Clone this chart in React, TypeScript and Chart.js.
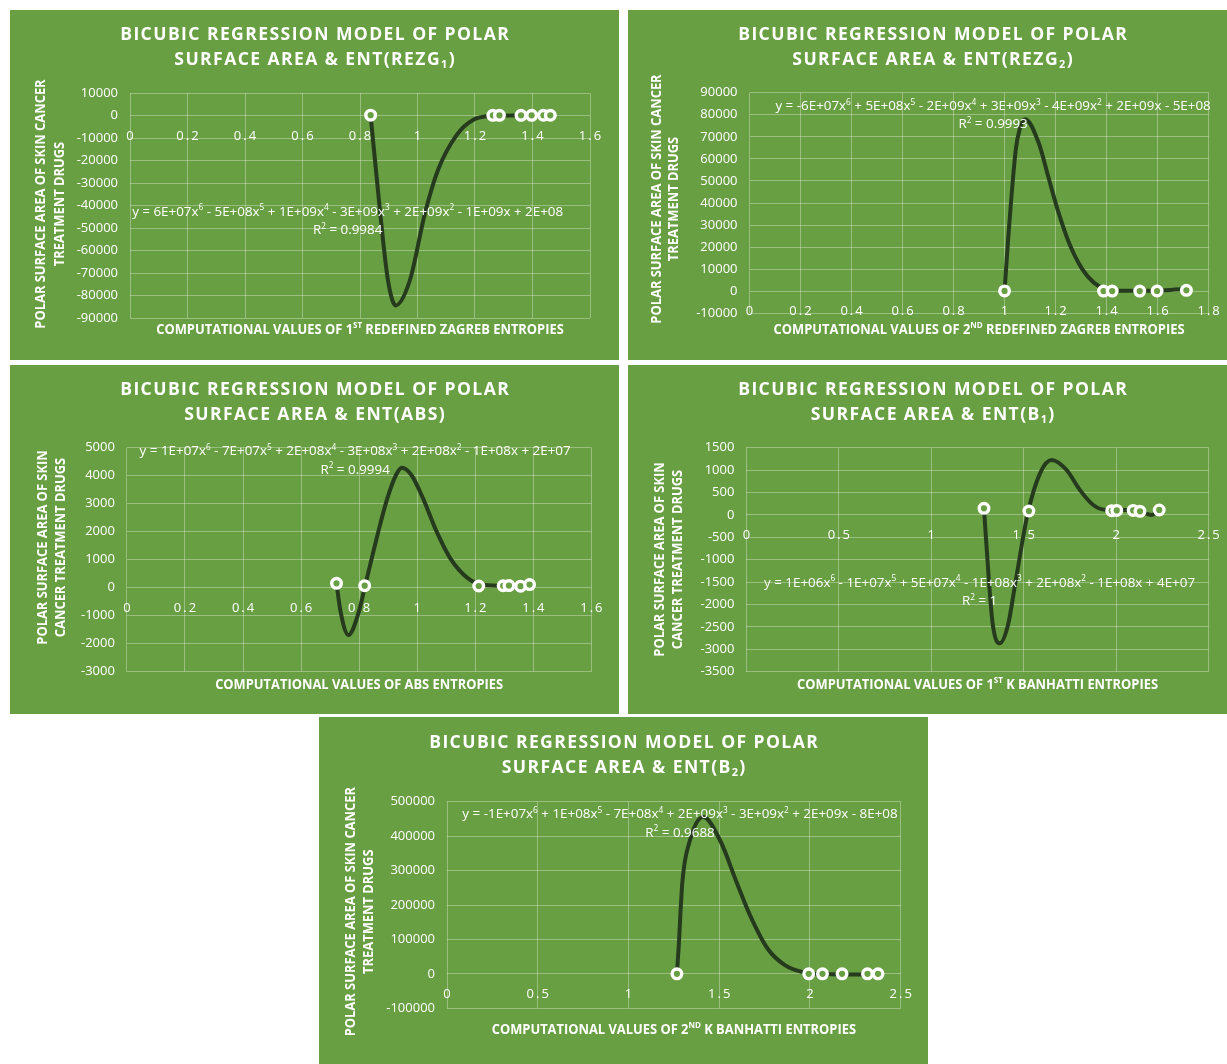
import React, { useEffect, useRef } from "react";
import { Chart, registerables } from "chart.js";

Chart.register(...registerables);

const GREEN = "#699F43";
const TREND = "#263B1E";
const GRID = "rgba(255,255,255,0.32)";
const FAMILY = "'Open Sans', 'DejaVu Sans', sans-serif";

// ---- ENT(REZG1) ----
const rezg1X = [0.837, 1.262, 1.285, 1.36, 1.397, 1.438, 1.462];
const rezg1Y = [155, 75, 70, 95, 60, 110, 100];
const rezg1FitX = [0.837, 0.87, 0.897, 0.924, 0.974, 1.026, 1.071, 1.136, 1.193, 1.26, 1.33, 1.4, 1.462];
const rezg1FitY = [0, -43000, -73000, -84400, -73000, -43400, -24300, -8700, -2000, -200, 0, 0, 0];

// ---- ENT(REZG2) ----
const rezg2X = [1.0, 1.388, 1.422, 1.53, 1.598, 1.713];
const rezg2Y = [155, 70, 95, 60, 110, 400];
const rezg2FitX = [1.0, 1.013, 1.044, 1.059, 1.081, 1.134, 1.171, 1.208, 1.253, 1.306, 1.351, 1.396, 1.45, 1.55, 1.65, 1.713];
const rezg2FitY = [0, 21900, 64200, 73300, 78000, 67200, 52100, 37000, 21900, 9800, 3800, 1000, 200, 200, 600, 1000];

// ---- ENT(ABS) ----
const absX = [0.722, 0.819, 1.212, 1.296, 1.316, 1.356, 1.387];
const absY = [157, 71, 60, 70, 75, 55, 110];
const absFitX = [0.722, 0.736, 0.763, 0.799, 0.819, 0.866, 0.897, 0.927, 0.947, 0.98, 1.02, 1.067, 1.114, 1.175, 1.23, 1.3, 1.387];
const absFitY = [157, -857, -1690, -857, 0, 2000, 3190, 4025, 4286, 4025, 3190, 2000, 1048, 334, 95, 70, 85];

// ---- ENT(B1) ----
const b1X = [1.285, 1.528, 1.976, 2.003, 2.092, 2.129, 2.233];
const b1Y = [147, 87, 95, 100, 100, 80, 110];
const b1FitX = [1.285, 1.312, 1.333, 1.37, 1.415, 1.456, 1.52, 1.588, 1.651, 1.732, 1.804, 1.876, 1.949, 2.003, 2.05, 2.13, 2.192, 2.233];
const b1FitY = [147, -1490, -2458, -2866, -2458, -1490, 0, 928, 1225, 1002, 556, 221, 109, 125, 109, 76, 0, 100];

// ---- ENT(B2) ----
const b2X = [1.267, 1.993, 2.069, 2.177, 2.317, 2.375];
const b2Y = [155, 75, 95, 60, 110, 100];
const b2FitX = [1.267, 1.276, 1.297, 1.336, 1.412, 1.509, 1.595, 1.67, 1.767, 1.864, 1.961, 2.05, 2.2, 2.375];
const b2FitY = [0, 73000, 267000, 383000, 455800, 383000, 267000, 170000, 73000, 24700, 5000, 0, -2000, 0];

const TITLE_TOP = "BICUBIC REGRESSION MODEL OF POLAR";
const Y_TITLE_LONG = ["POLAR SURFACE AREA OF SKIN CANCER", "TREATMENT DRUGS"];
const Y_TITLE_SHORT = ["POLAR SURFACE AREA OF SKIN", "CANCER TREATMENT DRUGS"];

type TextStyle = { weight: string; size: number; spacing: number; ref?: string; width?: number };

const TITLE_STYLE: TextStyle = { weight: "bold", size: 17.5, spacing: 1.4, ref: TITLE_TOP, width: 390 };
const AXIS_STYLE: TextStyle = { weight: "bold", size: 14, spacing: 0, ref: "COMPUTATIONAL VALUES OF ABS ENTROPIES", width: 288 };
const EQ_STYLE: TextStyle = {
  weight: "normal",
  size: 13,
  spacing: 0,
  ref: "y = 6E+07x^{6} - 5E+08x^{5} + 1E+09x^{4} - 3E+09x^{3} + 2E+09x^{2} - 1E+09x + 2E+08",
  width: 431,
};
const TICK_STYLE: TextStyle = { weight: "normal", size: 13, spacing: 2 };

type Panel = {
  box: { left: number; top: number; width: number; height: number };
  plot: { left: number; right: number; top: number; bottom: number };
  title: string[];
  titleY: number[];
  yTitle: string[];
  yTitleX: number[];
  yTitleCy: number;
  xTitle: string;
  xTitleY: number;
  xRange: number[];
  yRange: number[];
  eq: string[];
  eqAt: { x: number; y: number };
  px: number[];
  py: number[];
  fx: number[];
  fy: number[];
};

const panels: Panel[] = [
  {
    box: { left: 10, top: 10, width: 609, height: 350 },
    plot: { left: 120, right: 580, top: 83, bottom: 308 },
    title: [TITLE_TOP, "SURFACE AREA & ENT(REZG_{1})"],
    titleY: [25, 50],
    yTitle: Y_TITLE_LONG,
    yTitleX: [30.7, 50],
    yTitleCy: 194,
    xTitle: "COMPUTATIONAL VALUES OF 1^{ST} REDEFINED ZAGREB ENTROPIES",
    xTitleY: 320,
    xRange: [0, 1.6, 0.2],
    yRange: [-90000, 10000, 10000],
    eq: ["y = 6E+07x^{6} - 5E+08x^{5} + 1E+09x^{4} - 3E+09x^{3} + 2E+09x^{2} - 1E+09x + 2E+08", "R^{2} = 0.9984"],
    eqAt: { x: 0.757, y: -43000 },
    px: rezg1X,
    py: rezg1Y,
    fx: rezg1FitX,
    fy: rezg1FitY,
  },
  {
    box: { left: 628, top: 10, width: 599, height: 350 },
    plot: { left: 121.5, right: 580.6, top: 82.7, bottom: 303.3 },
    title: [TITLE_TOP, "SURFACE AREA & ENT(REZG_{2})"],
    titleY: [25, 50],
    yTitle: Y_TITLE_LONG,
    yTitleX: [28.6, 45.8],
    yTitleCy: 189,
    xTitle: "COMPUTATIONAL VALUES OF 2^{ND} REDEFINED ZAGREB ENTROPIES",
    xTitleY: 320,
    xRange: [0, 1.8, 0.2],
    yRange: [-10000, 90000, 10000],
    eq: ["y = -6E+07x^{6} + 5E+08x^{5} - 2E+09x^{4} + 3E+09x^{3} - 4E+09x^{2} + 2E+09x - 5E+08", "R^{2} = 0.9993"],
    eqAt: { x: 0.955, y: 83800 },
    px: rezg2X,
    py: rezg2Y,
    fx: rezg2FitX,
    fy: rezg2FitY,
  },
  {
    box: { left: 10, top: 365, width: 609, height: 349 },
    plot: { left: 116.9, right: 581.4, top: 82.7, bottom: 306.7 },
    title: [TITLE_TOP, "SURFACE AREA & ENT(ABS)"],
    titleY: [25, 50],
    yTitle: Y_TITLE_SHORT,
    yTitleX: [33, 50.7],
    yTitleCy: 182.5,
    xTitle: "COMPUTATIONAL VALUES OF ABS ENTROPIES",
    xTitleY: 320,
    xRange: [0, 1.6, 0.2],
    yRange: [-3000, 5000, 1000],
    eq: ["y = 1E+07x^{6} - 7E+07x^{5} + 2E+08x^{4} - 3E+08x^{3} + 2E+08x^{2} - 1E+08x + 2E+07", "R^{2} = 0.9994"],
    eqAt: { x: 0.786, y: 4857 },
    px: absX,
    py: absY,
    fx: absFitX,
    fy: absFitY,
  },
  {
    box: { left: 628, top: 365, width: 599, height: 349 },
    plot: { left: 118.4, right: 580.6, top: 82.7, bottom: 306.7 },
    title: [TITLE_TOP, "SURFACE AREA & ENT(B_{1})"],
    titleY: [25, 50],
    yTitle: Y_TITLE_SHORT,
    yTitleX: [32.5, 49.7],
    yTitleCy: 194.5,
    xTitle: "COMPUTATIONAL VALUES OF 1^{ST} K BANHATTI ENTROPIES",
    xTitleY: 320,
    xRange: [0, 2.5, 0.5],
    yRange: [-3500, 1500, 500],
    eq: ["y = 1E+06x^{6} - 1E+07x^{5} + 5E+07x^{4} - 1E+08x^{3} + 2E+08x^{2} - 1E+08x + 4E+07", "R^{2} = 1"],
    eqAt: { x: 1.261, y: -1527 },
    px: b1X,
    py: b1Y,
    fx: b1FitX,
    fy: b1FitY,
  },
  {
    box: { left: 319, top: 717, width: 609, height: 347 },
    plot: { left: 128, right: 581.7, top: 84.7, bottom: 291.3 },
    title: [TITLE_TOP, "SURFACE AREA & ENT(B_{2})"],
    titleY: [26, 51],
    yTitle: Y_TITLE_LONG,
    yTitleX: [32, 49.8],
    yTitleCy: 194.7,
    xTitle: "COMPUTATIONAL VALUES OF 2^{ND} K BANHATTI ENTROPIES",
    xTitleY: 313,
    xRange: [0, 2.5, 0.5],
    yRange: [-100000, 500000, 100000],
    eq: ["y = -1E+07x^{6} + 1E+08x^{5} - 7E+08x^{4} + 2E+09x^{3} - 3E+09x^{2} + 2E+09x - 8E+08", "R^{2} = 0.9688"],
    eqAt: { x: 1.284, y: 462800 },
    px: b2X,
    py: b2Y,
    fx: b2FitX,
    fy: b2FitY,
  },
];

// ---- rich text: ^{..} is superscript, _{..} is subscript ----
type Seg = { t: string; k: "" | "sup" | "sub" };

function parseRich(s: string): Seg[] {
  const out: Seg[] = [];
  const re = /([\^_])\{([^}]*)\}/g;
  let last = 0;
  let m: RegExpExecArray | null;
  while ((m = re.exec(s))) {
    if (m.index > last) out.push({ t: s.slice(last, m.index), k: "" });
    out.push({ t: m[2], k: m[1] === "^" ? "sup" : "sub" });
    last = re.lastIndex;
  }
  if (last < s.length) out.push({ t: s.slice(last), k: "" });
  return out;
}

function setFont(ctx: CanvasRenderingContext2D, st: TextStyle, k: string) {
  const size = k ? st.size * 0.62 : st.size;
  ctx.font = `${st.weight} ${size}px ${FAMILY}`;
  (ctx as any).letterSpacing = `${st.spacing}px`;
}

function measureRich(ctx: CanvasRenderingContext2D, s: string, st: TextStyle) {
  ctx.save();
  const w = parseRich(s).reduce((acc, p) => {
    setFont(ctx, st, p.k);
    return acc + ctx.measureText(p.t).width;
  }, 0);
  ctx.restore();
  return w;
}

function squeeze(ctx: CanvasRenderingContext2D, st: TextStyle) {
  if (!st.ref || !st.width) return 1;
  return st.width / measureRich(ctx, st.ref, st);
}

function drawRich(
  ctx: CanvasRenderingContext2D,
  s: string,
  cx: number,
  cy: number,
  st: TextStyle,
  rotate = false
) {
  const sx = squeeze(ctx, st);
  const parts = parseRich(s);
  ctx.save();
  ctx.translate(cx, cy);
  if (rotate) ctx.rotate(-Math.PI / 2);
  ctx.scale(sx, 1);
  const widths = parts.map((p) => {
    setFont(ctx, st, p.k);
    return ctx.measureText(p.t).width;
  });
  const total = widths.reduce((a, b) => a + b, 0);
  let x = -total / 2 + st.spacing / 2;
  ctx.fillStyle = "#ffffff";
  ctx.textAlign = "left";
  ctx.textBaseline = "middle";
  parts.forEach((p, i) => {
    setFont(ctx, st, p.k);
    const dy = p.k === "sup" ? -st.size * 0.32 : p.k === "sub" ? st.size * 0.3 : 0;
    ctx.fillText(p.t, x, dy);
    x += widths[i];
  });
  ctx.restore();
}

function decorations(cfg: Panel) {
  return {
    id: "decorations",
    beforeDraw(chart: Chart) {
      const ctx = chart.ctx;
      ctx.save();
      ctx.fillStyle = GREEN;
      ctx.fillRect(0, 0, chart.width, chart.height);
      ctx.restore();
    },
    beforeDatasetsDraw(chart: Chart) {
      const ctx = chart.ctx;
      const xs = chart.scales.x;
      const ys = chart.scales.y;
      const y0 = ys.getPixelForValue(0);
      xs.ticks.forEach((t) => {
        const label = String(Math.round(t.value * 10) / 10);
        drawRich(ctx, label, xs.getPixelForValue(t.value), y0 + 20.5, TICK_STYLE);
      });
    },
    afterDraw(chart: Chart) {
      const ctx = chart.ctx;
      const { chartArea } = chart;
      const midX = 304.5;
      cfg.title.forEach((line, i) => drawRich(ctx, line, midX, cfg.titleY[i], TITLE_STYLE));
      cfg.yTitle.forEach((line, i) => drawRich(ctx, line, cfg.yTitleX[i], cfg.yTitleCy, AXIS_STYLE, true));
      drawRich(ctx, cfg.xTitle, (chartArea.left + chartArea.right) / 2, cfg.xTitleY, AXIS_STYLE);
      const ex = chart.scales.x.getPixelForValue(cfg.eqAt.x);
      const ey = chart.scales.y.getPixelForValue(cfg.eqAt.y);
      drawRich(ctx, cfg.eq[0], ex, ey, EQ_STYLE);
      drawRich(ctx, cfg.eq[1], ex, ey + 18.3, EQ_STYLE);
    },
  };
}

function PanelChart({ cfg }: { cfg: Panel }) {
  const ref = useRef<HTMLCanvasElement>(null);

  useEffect(() => {
    if (!ref.current) return;
    const { box, plot } = cfg;
    const chart = new Chart(ref.current, {
      type: "line",
      data: {
        datasets: [
          {
            label: "Polar surface area",
            data: cfg.px.map((x, i) => ({ x, y: cfg.py[i] })),
            showLine: false,
            pointRadius: 4.8,
            pointHoverRadius: 4.8,
            pointBorderWidth: 3.4,
            pointBorderColor: "#ffffff",
            pointBackgroundColor: GREEN,
          },
          {
            label: "Poly. (Polar surface area)",
            data: cfg.fx.map((x, i) => ({ x, y: cfg.fy[i] })),
            borderColor: TREND,
            borderWidth: 4,
            pointRadius: 0,
            cubicInterpolationMode: "monotone",
            fill: false,
          },
        ],
      },
      options: {
        responsive: false,
        animation: false,
        devicePixelRatio: 1,
        events: [],
        layout: {
          padding: {
            left: 0,
            top: plot.top,
            right: box.width - plot.right,
            bottom: box.height - plot.bottom,
          },
        },
        plugins: {
          legend: { display: false },
          tooltip: { enabled: false },
          title: { display: false },
        },
        scales: {
          x: {
            type: "linear",
            min: cfg.xRange[0],
            max: cfg.xRange[1],
            position: { y: 0 } as any,
            ticks: { display: false, stepSize: cfg.xRange[2], autoSkip: false },
            grid: { color: GRID, lineWidth: 1, drawTicks: false },
            border: { display: false },
          },
          y: {
            type: "linear",
            min: cfg.yRange[0],
            max: cfg.yRange[1],
            ticks: {
              stepSize: cfg.yRange[2],
              color: "#ffffff",
              font: { family: FAMILY, size: 13 },
              padding: 12,
              callback: (v: any) => String(v),
            },
            grid: { color: GRID, lineWidth: 1, drawTicks: false },
            border: { display: false },
            afterFit: (scale: any) => {
              scale.width = plot.left;
            },
          },
        },
      },
      plugins: [decorations(cfg)],
    } as any);
    return () => chart.destroy();
  }, [cfg]);

  return (
    <canvas
      ref={ref}
      width={cfg.box.width}
      height={cfg.box.height}
      style={{
        position: "absolute",
        left: cfg.box.left,
        top: cfg.box.top,
        width: cfg.box.width,
        height: cfg.box.height,
      }}
    />
  );
}

export default function App() {
  return (
    <div
      style={{
        position: "fixed",
        left: 0,
        top: 0,
        width: 1227,
        height: 1064,
        background: "#ffffff",
        overflow: "hidden",
      }}
    >
      {panels.map((p, i) => (
        <PanelChart key={i} cfg={p} />
      ))}
    </div>
  );
}
